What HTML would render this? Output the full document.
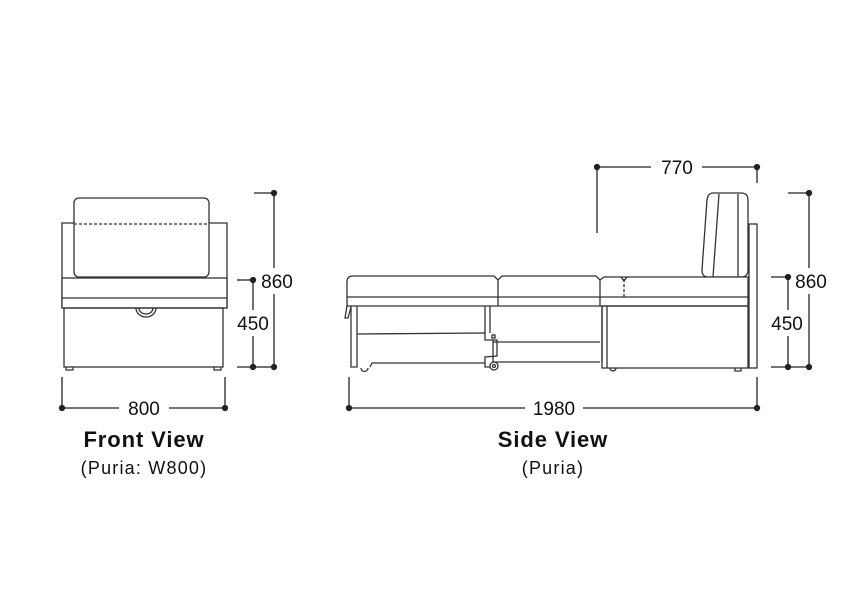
<!DOCTYPE html>
<html><head><meta charset="utf-8"><style>
html,body{margin:0;padding:0;background:#fff;width:860px;height:614px;overflow:hidden}
svg{display:block}
text{font-family:"Liberation Sans",Arial,sans-serif;fill:#111}
</style></head><body>
<svg width="860" height="614" viewBox="0 0 860 614" xmlns="http://www.w3.org/2000/svg">
<g fill="none" stroke="#333" stroke-width="1.3">
<path d="M62 308 V223 H74 M209 223 H227 V308"/>
<rect x="74" y="198" width="135" height="79" rx="5" fill="#fff"/>
<line x1="74" y1="224" x2="209" y2="224" stroke-dasharray="3,2"/>
<rect x="62" y="278" width="165" height="30" fill="#fff"/>
<line x1="62" y1="298" x2="227" y2="298"/>
<path d="M136 308 A10 9 0 0 0 156 308"/>
<path d="M139 308 A7 6 0 0 0 153 308"/>
<rect x="64" y="308" width="159" height="59"/>
<path d="M66 367 v3 h7 v-3 M214 367 v3 h7 v-3"/>
</g>
<g stroke="#222" stroke-width="1.3" fill="#222">
<line x1="254" y1="193" x2="274" y2="193"/><line x1="274" y1="193" x2="274" y2="268"/><line x1="274" y1="294" x2="274" y2="367"/>
<line x1="237" y1="280" x2="253" y2="280"/><line x1="253" y1="280" x2="253" y2="310"/><line x1="253" y1="336" x2="253" y2="367"/>
<line x1="237" y1="367" x2="274" y2="367"/>
<circle cx="274" cy="193" r="2.5"/><circle cx="274" cy="367" r="2.5"/><circle cx="253" cy="280" r="2.5"/><circle cx="253" cy="367" r="2.5"/>
<line x1="62" y1="377" x2="62" y2="408"/><line x1="225" y1="377" x2="225" y2="408"/>
<line x1="62" y1="408" x2="119" y2="408"/><line x1="169" y1="408" x2="225" y2="408"/>
<circle cx="62" cy="408" r="2.5"/><circle cx="225" cy="408" r="2.5"/>
</g>
<text x="277" y="288" font-size="19" text-anchor="middle">860</text>
<text x="253" y="330" font-size="19" text-anchor="middle">450</text>
<text x="144" y="415" font-size="19" text-anchor="middle">800</text>
<text x="144" y="447" font-size="22" font-weight="bold" letter-spacing="0.9" text-anchor="middle">Front View</text>
<text x="144" y="474" font-size="18" letter-spacing="1.2" text-anchor="middle">(Puria: W800)</text>

<g fill="none" stroke="#333" stroke-width="1.3">
<rect x="749" y="224" width="8" height="144"/>
<path d="M713 193 H741 Q748 193 748 200 V270 Q748 277 741 277 H708 Q702 277 702 270 L707 200 Q708 193 713 193 Z" fill="#fff"/>
<line x1="719" y1="194" x2="713" y2="277"/>
<line x1="738" y1="194" x2="738" y2="277"/>
<path d="M347 306 V282 Q347 276 353 276 H494 L498 280 L502 276 H596 L600 280 L604 277 H748 V306 Z" fill="#fff"/>
<line x1="498" y1="280" x2="498" y2="306"/>
<line x1="600" y1="280" x2="600" y2="306"/>
<line x1="347" y1="297" x2="748" y2="297"/>
<line x1="624" y1="279" x2="624" y2="297" stroke-dasharray="3,2"/>
<path d="M621 277 L624 281 L627 277"/>
<rect x="602" y="306" width="146" height="62"/>
<line x1="607" y1="306" x2="607" y2="368"/>
<path d="M610 368 a3 3 0 0 0 6 0 M741 368 v3 h-6 v-3"/>
<path d="M351 306 V367 H357 V306"/>
<path d="M347 306 L345 318 L348 318 L351 307"/>
<path d="M357 334 L485 333 V340 H497 V356 L485 357 V363 H372 L370 367"/>
<path d="M485 306 V333 M490 306 V333"/>
<rect x="492" y="335" width="3" height="3"/>
<path d="M493 342 H600 M493 340 V362 H600"/>
<path d="M602 306 V362"/>
<path d="M361 368 a3 3 0 0 0 7 0"/>
<circle cx="494" cy="366" r="4"/><circle cx="494" cy="366" r="1.5"/>
<path d="M485 363 v4 h5"/>
</g>
<g stroke="#222" stroke-width="1.3" fill="#222">
<line x1="597" y1="167" x2="651" y2="167"/><line x1="702" y1="167" x2="757" y2="167"/>
<line x1="597" y1="167" x2="597" y2="233"/><line x1="757" y1="167" x2="757" y2="183"/>
<circle cx="597" cy="167" r="2.5"/><circle cx="757" cy="167" r="2.5"/>
<line x1="788" y1="193" x2="809" y2="193"/><line x1="809" y1="193" x2="809" y2="268"/><line x1="809" y1="294" x2="809" y2="367"/>
<line x1="771" y1="277" x2="788" y2="277"/><line x1="788" y1="277" x2="788" y2="310"/><line x1="788" y1="336" x2="788" y2="367"/>
<line x1="771" y1="367" x2="809" y2="367"/>
<circle cx="809" cy="193" r="2.5"/><circle cx="809" cy="367" r="2.5"/><circle cx="788" cy="277" r="2.5"/><circle cx="788" cy="367" r="2.5"/>
<line x1="349" y1="377" x2="349" y2="408"/><line x1="757" y1="377" x2="757" y2="408"/>
<line x1="349" y1="408" x2="525" y2="408"/><line x1="583" y1="408" x2="757" y2="408"/>
<circle cx="349" cy="408" r="2.5"/><circle cx="757" cy="408" r="2.5"/>
</g>
<text x="677" y="174" font-size="19" text-anchor="middle">770</text>
<text x="811" y="288" font-size="19" text-anchor="middle">860</text>
<text x="787" y="330" font-size="19" text-anchor="middle">450</text>
<text x="554" y="415" font-size="19" text-anchor="middle">1980</text>
<text x="553" y="447" font-size="22" font-weight="bold" letter-spacing="0.9" text-anchor="middle">Side View</text>
<text x="553" y="474" font-size="18" letter-spacing="1.2" text-anchor="middle">(Puria)</text>
</svg>
</body></html>
